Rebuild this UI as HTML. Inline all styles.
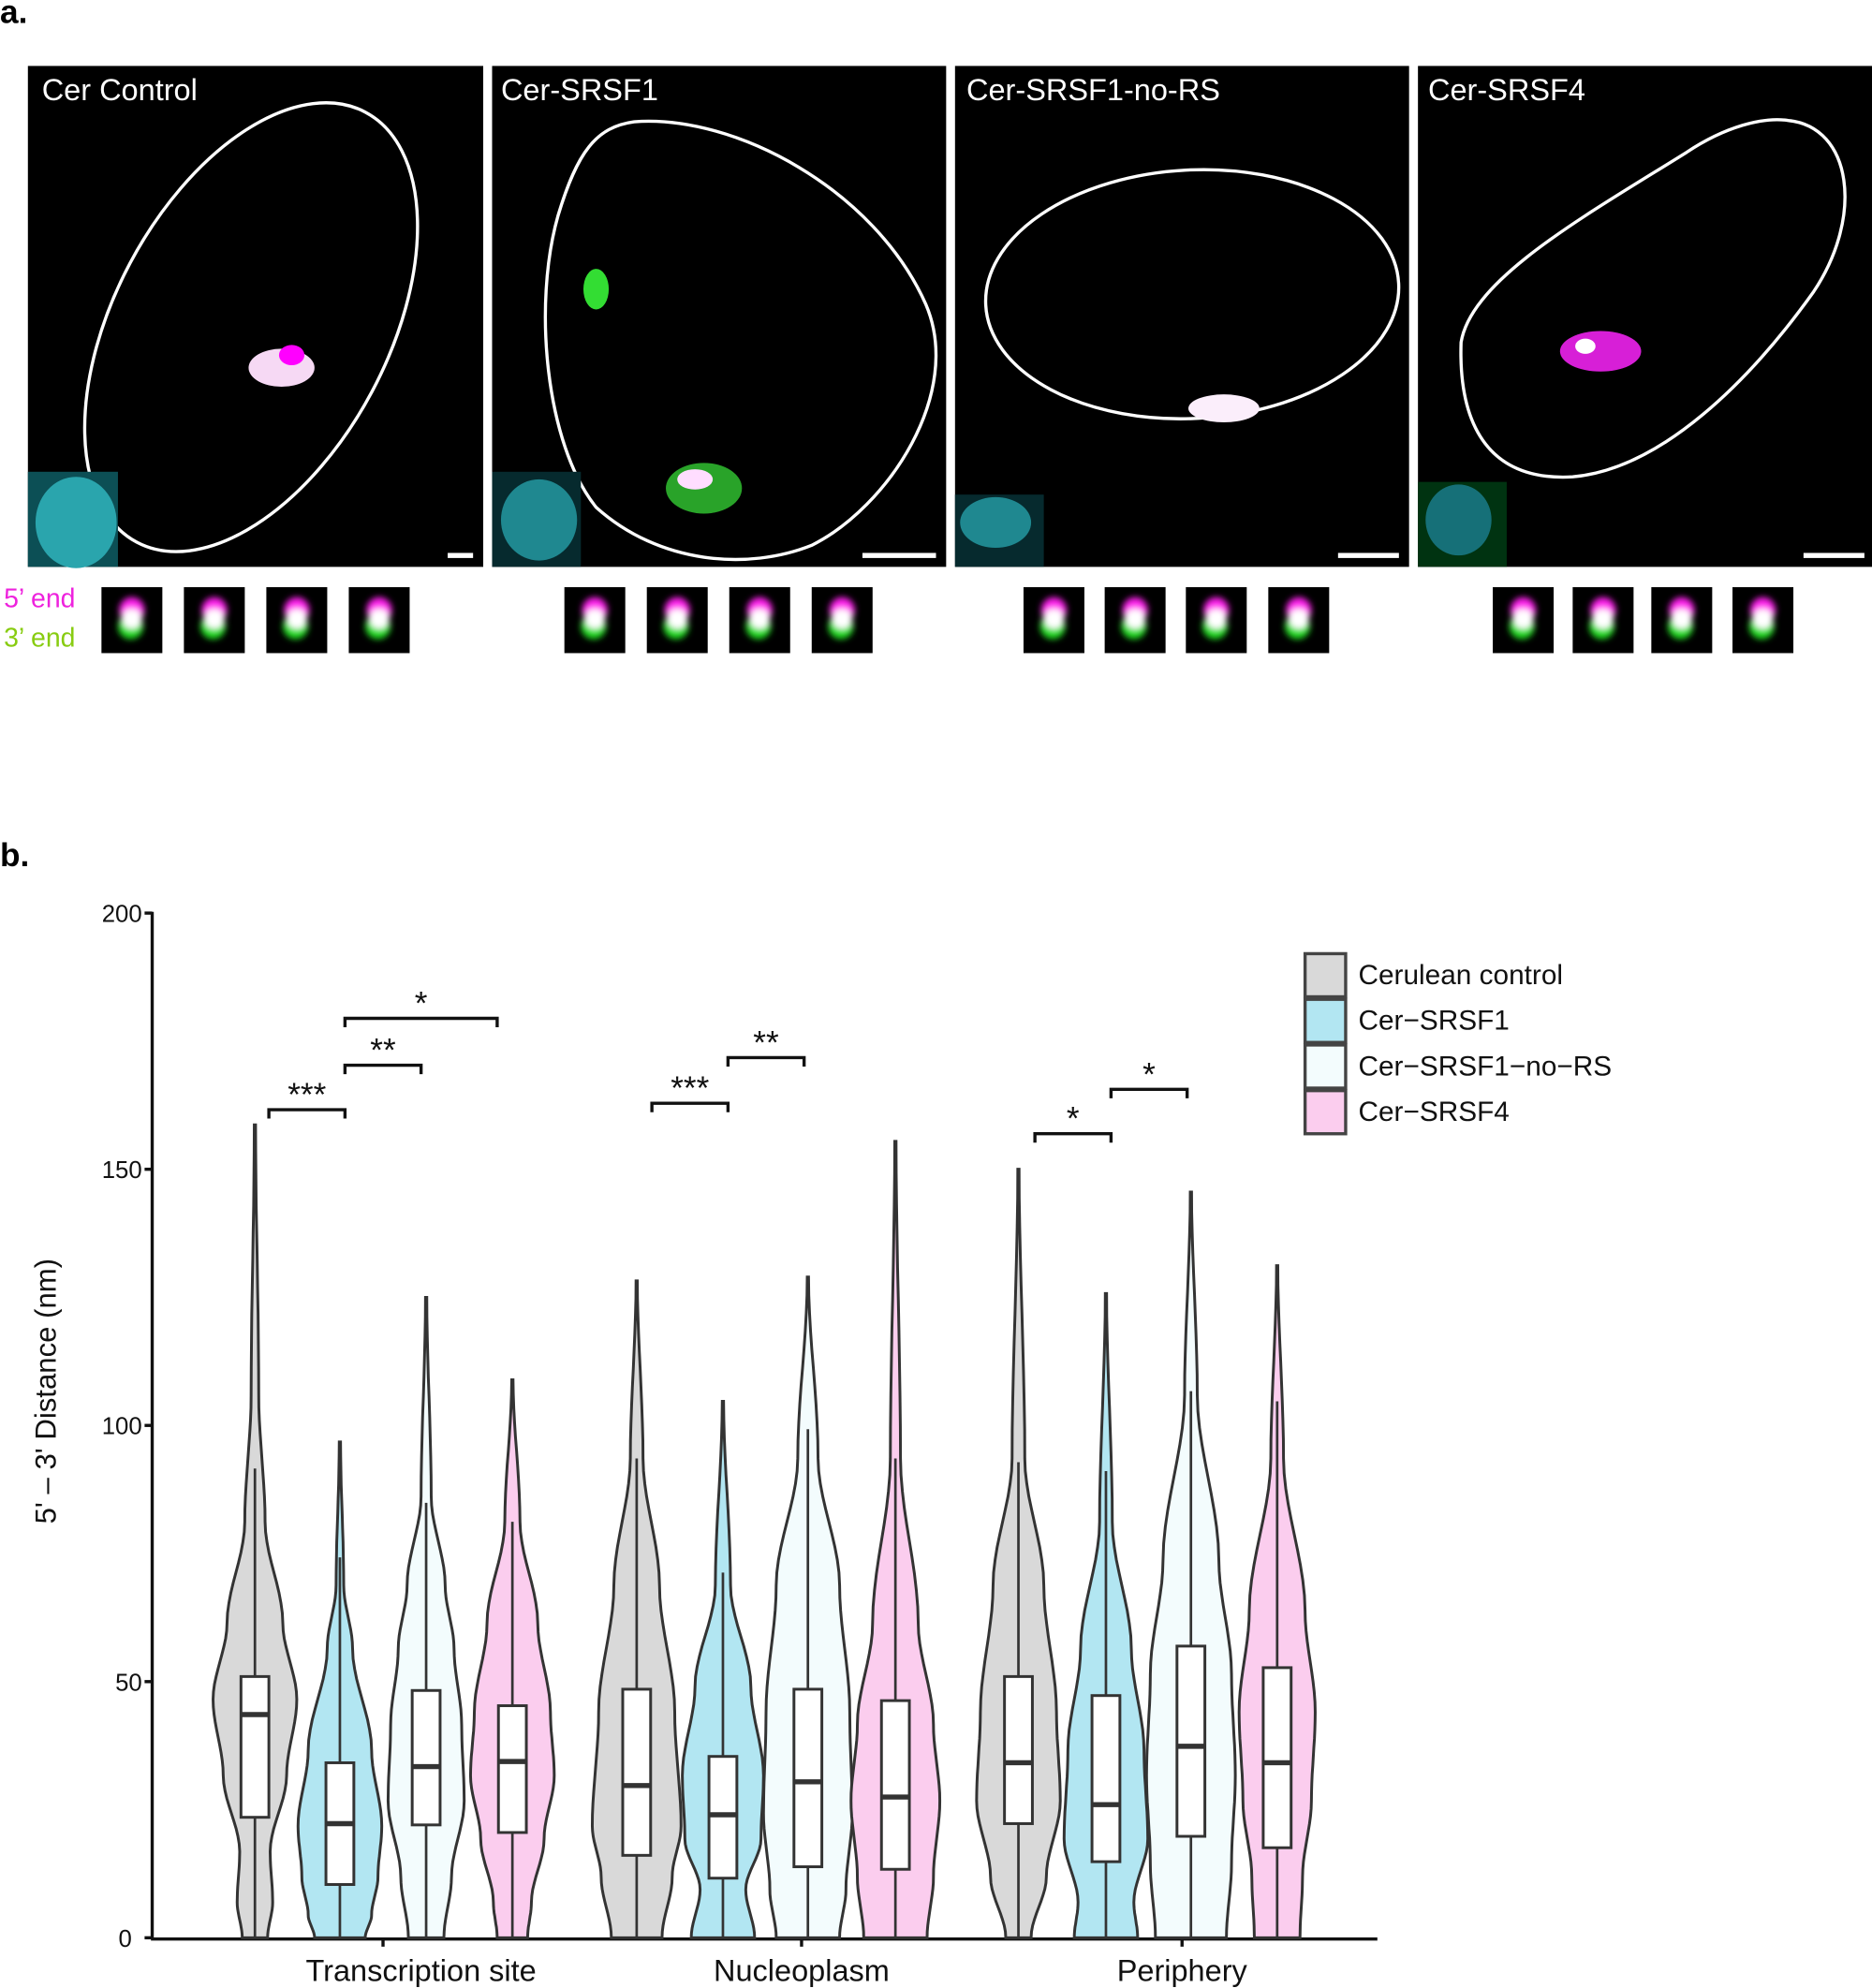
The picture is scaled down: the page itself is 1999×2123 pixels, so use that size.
<!DOCTYPE html>
<html><head><meta charset="utf-8"><style>html,body{margin:0;padding:0;background:#fff}svg{display:block}</style></head>
<body>
<svg id="s" xmlns="http://www.w3.org/2000/svg" width="1999" height="2123" viewBox="0 0 1476 1567.6" preserveAspectRatio="none" font-family="Liberation Sans, Arial, sans-serif">
<defs><filter id="bl" x="-50%" y="-50%" width="200%" height="200%"><feGaussianBlur stdDeviation="2.5"/></filter></defs>
<rect width="1476" height="1568" fill="#fff"/>
<text x="0" y="18" font-size="26" font-weight="bold">a.</text>
<rect x="22" y="52" width="359" height="395" fill="#000"/>
<rect x="388" y="52" width="358" height="395" fill="#000"/>
<rect x="753" y="52" width="358" height="395" fill="#000"/>
<rect x="1118" y="52" width="358" height="395" fill="#000"/>
<g fill="#fff" font-size="24">
<text x="33" y="79">Cer Control</text>
<text x="395" y="79">Cer-SRSF1</text>
<text x="762" y="79">Cer-SRSF1-no-RS</text>
<text x="1126" y="79">Cer-SRSF4</text>
</g>
<g fill="none" stroke="#fff" stroke-width="2.5">
<ellipse cx="198" cy="258" rx="108" ry="192" transform="rotate(28 198 258)"/>
<path d="M500 96 C580 90 690 150 730 240 C760 310 700 400 640 430 C590 450 520 445 470 400 C430 350 420 240 440 170 C455 120 470 100 500 96 Z"/>
<ellipse cx="940" cy="232" rx="163" ry="98" transform="rotate(-3 940 232)"/>
<path d="M1410 95 C1460 100 1470 170 1430 230 C1380 300 1310 370 1240 376 C1170 380 1150 330 1152 270 C1160 220 1250 170 1330 120 C1360 100 1390 92 1410 95 Z"/>
</g>
<g>
<ellipse cx="222" cy="290" rx="26" ry="15" fill="#f6d9f4"/><ellipse cx="230" cy="280" rx="10" ry="8" fill="#f0f"/>
<ellipse cx="555" cy="385" rx="30" ry="20" fill="#3c3" opacity=".8"/><ellipse cx="548" cy="378" rx="14" ry="8" fill="#fdf"/>
<ellipse cx="470" cy="228" rx="10" ry="16" fill="#3d3"/>
<ellipse cx="965" cy="322" rx="28" ry="11" fill="#fbeefb"/>
<ellipse cx="1262" cy="277" rx="32" ry="16" fill="#e2e" opacity=".9"/><ellipse cx="1250" cy="273" rx="8" ry="6" fill="#fff"/>
</g>
<rect x="22" y="372" width="71" height="75" fill="#0c4f55"/><ellipse cx="60" cy="412" rx="32" ry="36" fill="#2aa5ad"/>
<rect x="388" y="372" width="70" height="75" fill="#062a2e"/><ellipse cx="425" cy="410" rx="30" ry="32" fill="#1f8890"/>
<rect x="753" y="390" width="70" height="57" fill="#062a2e"/><ellipse cx="785" cy="412" rx="28" ry="20" fill="#1f8890"/>
<rect x="1118" y="380" width="70" height="67" fill="#031"/><ellipse cx="1150" cy="410" rx="26" ry="28" fill="#167078"/>
<g fill="#fff"><rect x="353" y="436" width="20" height="4"/><rect x="680" y="436" width="58" height="4"/><rect x="1055" y="436" width="48" height="4"/><rect x="1422" y="436" width="48" height="4"/></g>
<text x="3" y="479" font-size="21" fill="#ee22dd">5’ end</text>
<text x="3" y="510" font-size="21" fill="#88cc11">3’ end</text>
<g id="sq"></g>
<text x="0" y="683" font-size="26" font-weight="bold">b.</text>
<g stroke="#111" stroke-width="2.5" fill="none">
<line x1="120" y1="719" x2="120" y2="1529"/>
<line x1="119" y1="1529" x2="1086" y2="1529"/>
<line x1="114" y1="720" x2="120" y2="720"/><line x1="114" y1="922" x2="120" y2="922"/><line x1="114" y1="1124" x2="120" y2="1124"/><line x1="114" y1="1326" x2="120" y2="1326"/><line x1="114" y1="1528" x2="120" y2="1528"/>
<line x1="302" y1="1529" x2="302" y2="1535"/><line x1="632" y1="1529" x2="632" y2="1535"/><line x1="932" y1="1529" x2="932" y2="1535"/>
</g>
<g font-size="19" text-anchor="end" fill="#111">
<text x="112" y="727">200</text><text x="112" y="929">150</text><text x="112" y="1131">100</text><text x="112" y="1333">50</text><text x="104" y="1535">0</text>
</g>
<g font-size="24" text-anchor="middle" fill="#111">
<text x="332" y="1562">Transcription site</text><text x="632" y="1562">Nucleoplasm</text><text x="932" y="1562">Periphery</text>
</g>
<text transform="translate(44 1097) rotate(-90)" font-size="23" text-anchor="middle" fill="#111">5' – 3' Distance (nm)</text>
<g id="v"></g>
<g stroke="#111" stroke-width="2.5" fill="none">
<path d="M212 882 V875 H272 V882"/><path d="M272 847 V840 H332 V847"/><path d="M272 810 V803 H392 V810"/>
<path d="M514 877 V870 H574 V877"/><path d="M574 841 V834 H634 V841"/>
<path d="M816 901 V894 H876 V901"/><path d="M876 866 V859 H936 V866"/>
</g>
<g font-size="26" text-anchor="middle" fill="#111">
<text x="242" y="872">***</text><text x="302" y="837">**</text><text x="332" y="800">*</text>
<text x="544" y="867">***</text><text x="604" y="831">**</text>
<text x="846" y="891">*</text><text x="906" y="856">*</text>
</g>
<g stroke="#444" stroke-width="2.5">
<rect x="1029" y="752" width="32" height="34" fill="#d9d9d9"/>
<rect x="1029" y="788" width="32" height="34" fill="#b2e6f2"/>
<rect x="1029" y="824" width="32" height="34" fill="#f3fcfd"/>
<rect x="1029" y="860" width="32" height="34" fill="#fbcdee"/>
</g>
<g font-size="22" fill="#111">
<text x="1071" y="776">Cerulean control</text><text x="1071" y="812">Cer−SRSF1</text><text x="1071" y="848">Cer−SRSF1−no−RS</text><text x="1071" y="884">Cer−SRSF4</text>
</g>
</svg>
<script>
var NS="http://www.w3.org/2000/svg";
function el(p,t,a){var e=document.createElementNS(NS,t);for(var k in a)e.setAttribute(k,a[k]);p.appendChild(e);return e;}
var sq=document.getElementById("sq");
[80,145,210,275,445,510,575,640,807,871,935,1000,1177,1240,1302,1366].forEach(function(x,i){
 el(sq,"rect",{x:x,y:463,width:48,height:52,fill:"#000"});
 var g=el(sq,"g",{filter:"url(#bl)"});
 el(g,"ellipse",{cx:x+24,cy:481,rx:10,ry:10,fill:"#f2e"});
 el(g,"ellipse",{cx:x+23,cy:494,rx:10,ry:10,fill:"#2d2"});
 el(g,"ellipse",{cx:x+24,cy:488,rx:8,ry:8,fill:"#fff"});
});
var cols=["#d9d9d9","#b2e6f2","#f3fcfd","#fbcdee"];
var V=[
[201,887,[[1100,3],[1200,8],[1280,22],[1340,33],[1400,25],[1460,12],[1500,14],[1528,10]],1322,1352,1433,1158],
[268,1137,[[1250,3],[1300,10],[1380,25],[1440,33],[1480,30],[1510,25],[1528,20]],1390,1438,1486,1228],
[336,1023,[[1180,4],[1250,15],[1300,22],[1360,28],[1420,30],[1480,20],[1528,14]],1333,1393,1439,1185],
[404,1088,[[1200,6],[1280,20],[1350,30],[1400,33],[1450,25],[1500,15],[1528,12]],1345,1389,1445,1200],
[502,1010,[[1150,5],[1250,18],[1350,30],[1440,35],[1480,28],[1528,20]],1332,1408,1463,1150],
[570,1105,[[1250,6],[1330,22],[1400,32],[1450,30],[1490,18],[1528,25]],1385,1431,1481,1240],
[637,1007,[[1150,8],[1250,25],[1350,33],[1430,35],[1490,30],[1528,25]],1332,1405,1472,1127],
[706,900,[[1150,4],[1280,18],[1360,30],[1420,35],[1480,30],[1528,25]],1341,1417,1474,1150],
[803,922,[[1150,5],[1250,20],[1350,30],[1420,33],[1480,22],[1528,10]],1322,1390,1438,1153],
[872,1020,[[1200,5],[1300,20],[1380,30],[1450,33],[1500,22],[1528,25]],1337,1423,1468,1160],
[939,940,[[1100,5],[1230,22],[1320,32],[1400,35],[1470,32],[1528,28]],1298,1377,1448,1097],
[1007,998,[[1150,5],[1270,22],[1350,30],[1420,27],[1480,20],[1528,18]],1315,1390,1457,1105]];
var g=document.getElementById("v");
V.forEach(function(v,i){
 var c=v[0],pts=[[v[1],0.5]].concat(v[2]);
 var R=[];
 for(var k=0;k<pts.length-1;k++){var a=pts[k],b=pts[k+1];
  for(var t=0;t<1;t+=0.1){var s=t*t*(3-2*t);var y=a[0]+(b[0]-a[0])*t,w=a[1]+(b[1]-a[1])*s;R.push([c+w,y]);}}
 var last=pts[pts.length-1];R.push([c+last[1],last[0]]);
 var d="M"+R.map(function(p){return p[0].toFixed(1)+" "+p[1].toFixed(1)}).join(" L");
 for(var j=R.length-1;j>=0;j--)d+=" L"+(2*c-R[j][0]).toFixed(1)+" "+R[j][1].toFixed(1);
 d+=" Z";
 el(g,"path",{d:d,fill:cols[i%4],stroke:"#333","stroke-width":2.2});
 el(g,"line",{x1:c,y1:v[6],x2:c,y2:1528,stroke:"#333","stroke-width":2});
 el(g,"rect",{x:c-11,y:v[3],width:22,height:v[5]-v[3],fill:"#fff",stroke:"#333","stroke-width":2.2});
 el(g,"line",{x1:c-11,y1:v[4],x2:c+11,y2:v[4],stroke:"#333","stroke-width":4});
});
</script>
</body></html>
